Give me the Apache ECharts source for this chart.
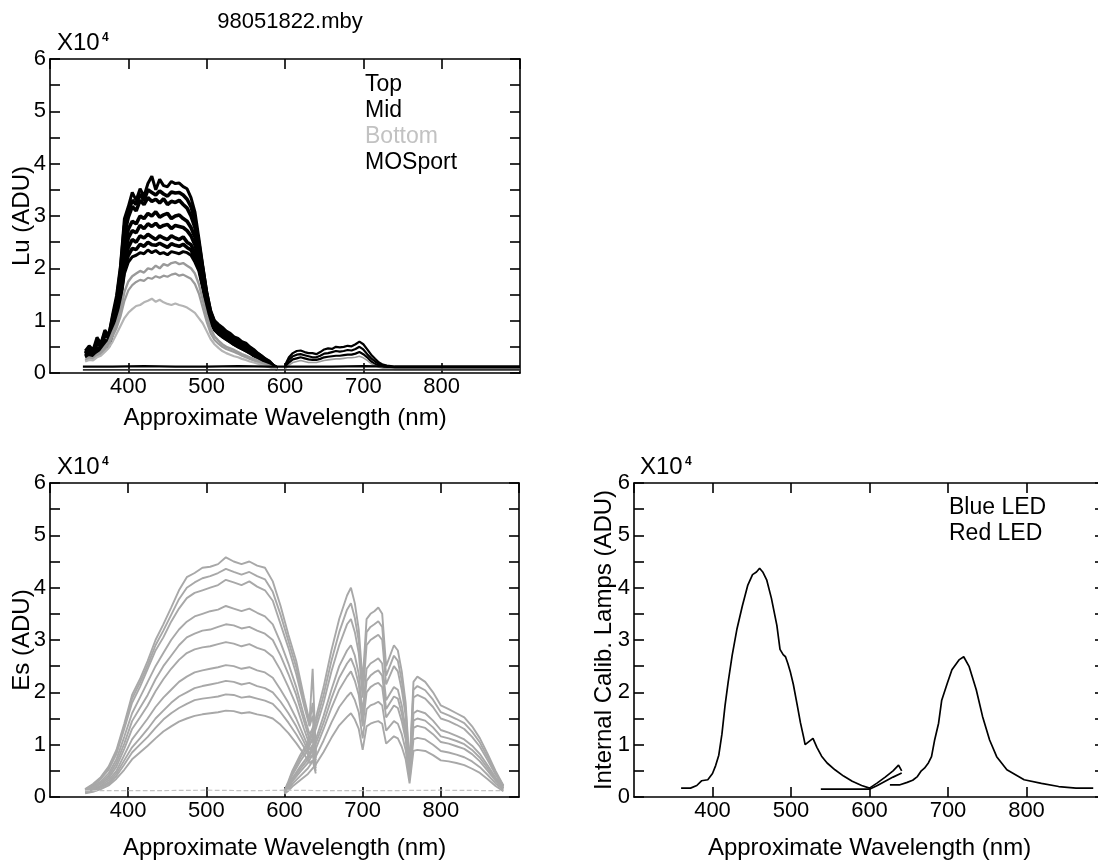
<!DOCTYPE html>
<html><head><meta charset="utf-8">
<script src="https://cdn.jsdelivr.net/npm/echarts@6/dist/echarts.min.js"></script>
<style>html,body{margin:0;padding:0;background:#fff}#c{width:1098px;height:863px}</style>
</head><body><div id="c"></div>
<script>
// ---------- DATA (values in units of 10^4 ADU) ----------
const titleText = '98051822.mby';
const xTicks = [400, 500, 600, 700, 800];

// Lu panel, spectrometer A
const luWlA = [345,350,355,360,365,370,375,380,385,390,395,400,405,410,415,420,425,430,435,440,445,450,455,460,465,470,475,480,485,490,495,500,505,510,515,520,525,530,535,540,545,550,555,560,565,570,575,580,585,590];
const luTop1 = [0.42,0.52,0.44,0.68,0.56,0.82,0.72,1.12,1.48,2.05, 2.95,3.18,3.45,3.30,3.52,3.38,3.62,3.76,3.50,3.70, 3.58,3.56,3.66,3.62,3.63,3.56,3.52,3.35,3.08,2.58, 2.05,1.55,1.20,1.00,0.93,0.87,0.80,0.76,0.69,0.66, 0.60,0.57,0.50,0.45,0.38,0.33,0.27,0.23,0.15,0.10];
const luTop3 = [0.38,0.46,0.42,0.60,0.54,0.76,0.70,1.05,1.38,1.95, 2.80,3.08,3.30,3.22,3.42,3.30,3.50,3.45,3.40,3.48, 3.42,3.38,3.46,3.44,3.45,3.40,3.32,3.18,2.92,2.48, 2.00,1.52,1.16,0.97,0.90,0.83,0.78,0.72,0.66,0.62, 0.58,0.53,0.48,0.42,0.37,0.31,0.26,0.21,0.14,0.10];
const luTop2 = [0.37,0.43,0.40,0.56,0.51,0.72,0.67,1.00,1.30,1.85, 2.65,2.98,3.18,3.10,3.30,3.22,3.35,3.28,3.32,3.25, 3.33,3.22,3.28,3.26,3.30,3.22,3.15,3.00,2.78,2.40, 1.95,1.48,1.12,0.94,0.87,0.80,0.75,0.70,0.64,0.60, 0.55,0.50,0.46,0.40,0.35,0.30,0.25,0.20,0.14,0.09];
const luMid1 = [0.34,0.38,0.36,0.48,0.46,0.62,0.60,0.90,1.18,1.68, 2.40,2.75,2.90,2.85,3.00,2.95,3.05,3.00,3.08,2.98, 3.02,3.05,2.95,3.00,3.02,2.95,2.90,2.78,2.60,2.30, 1.88,1.42,1.08,0.90,0.82,0.76,0.70,0.66,0.60,0.56, 0.52,0.47,0.42,0.37,0.32,0.28,0.23,0.18,0.13,0.09];
const luMid4 = [0.33,0.37,0.35,0.46,0.44,0.59,0.57,0.86,1.12,1.58, 2.25,2.58,2.72,2.68,2.82,2.76,2.85,2.80,2.86,2.78, 2.82,2.84,2.76,2.82,2.80,2.78,2.72,2.62,2.45,2.20, 1.80,1.38,1.05,0.88,0.80,0.74,0.68,0.64,0.58,0.54, 0.50,0.46,0.41,0.36,0.31,0.27,0.22,0.17,0.12,0.08];
const luMid2 = [0.32,0.36,0.34,0.44,0.43,0.56,0.55,0.82,1.08,1.50, 2.10,2.40,2.55,2.50,2.62,2.58,2.65,2.60,2.55,2.62, 2.58,2.55,2.62,2.58,2.55,2.60,2.50,2.45,2.30,2.10, 1.75,1.35,1.02,0.86,0.78,0.72,0.67,0.62,0.57,0.53, 0.49,0.45,0.40,0.35,0.31,0.26,0.22,0.17,0.12,0.08];
const luMid5 = [0.31,0.35,0.33,0.42,0.41,0.54,0.52,0.79,1.04,1.44, 2.00,2.25,2.38,2.36,2.46,2.42,2.50,2.45,2.44,2.48, 2.44,2.40,2.47,2.44,2.42,2.46,2.40,2.35,2.20,2.02, 1.68,1.30,0.99,0.84,0.76,0.70,0.65,0.60,0.55,0.51, 0.47,0.43,0.39,0.34,0.30,0.26,0.21,0.16,0.11,0.08];
const luMid3 = [0.30,0.34,0.32,0.41,0.40,0.52,0.50,0.76,1.00,1.38, 1.90,2.12,2.22,2.25,2.30,2.28,2.35,2.30,2.34,2.28, 2.30,2.26,2.32,2.30,2.28,2.32,2.30,2.25,2.12,1.95, 1.62,1.25,0.96,0.82,0.75,0.69,0.64,0.59,0.54,0.50, 0.46,0.42,0.38,0.33,0.29,0.25,0.21,0.16,0.11,0.08];
const luBot1 = [0.25,0.30,0.28,0.35,0.40,0.50,0.60,0.78,0.95,1.20, 1.55,1.75,1.85,1.90,1.95,1.92,2.00,1.98,2.05,2.00, 2.08,2.05,2.10,2.12,2.08,2.10,2.05,2.00,1.90,1.70, 1.40,1.10,0.85,0.70,0.62,0.55,0.50,0.47,0.44,0.40, 0.36,0.33,0.30,0.27,0.24,0.20,0.17,0.14,0.10,0.08];
const luBot2 = [0.23,0.27,0.26,0.32,0.36,0.45,0.54,0.70,0.86,1.08, 1.38,1.58,1.68,1.74,1.78,1.76,1.82,1.80,1.85,1.82, 1.86,1.84,1.88,1.90,1.86,1.88,1.84,1.80,1.70,1.52, 1.25,0.98,0.76,0.63,0.56,0.50,0.46,0.43,0.40,0.37, 0.33,0.30,0.27,0.24,0.21,0.18,0.15,0.12,0.09,0.07];
const luBot3 = [0.22,0.25,0.24,0.30,0.33,0.40,0.48,0.60,0.75,0.90, 1.05,1.15,1.22,1.28,1.30,1.35,1.38,1.42,1.36,1.40, 1.35,1.32,1.30,1.33,1.30,1.28,1.25,1.20,1.15,1.05, 0.95,0.80,0.65,0.55,0.48,0.42,0.38,0.35,0.32,0.30, 0.27,0.25,0.22,0.20,0.18,0.15,0.13,0.11,0.09,0.08];
// Lu panel, spectrometer B
const luWlB = [600,605,610,615,620,625,630,635,640,645,650,655,660,665,670,675,680,685,690,695,700,705,710,715,720,725,730,735,740,760,780,800,820,840,860,880,900];
const luTopB  = [0.15,0.30,0.38,0.42,0.43,0.40,0.38,0.38,0.36,0.40, 0.45,0.47,0.46,0.50,0.49,0.50,0.52,0.51,0.55,0.60, 0.55,0.45,0.35,0.27,0.20,0.16,0.14,0.13,0.12, 0.12,0.12,0.12,0.12,0.12,0.12,0.12,0.12];
const luMidB  = [0.12,0.25,0.32,0.35,0.36,0.34,0.32,0.30,0.30,0.33, 0.37,0.38,0.40,0.42,0.41,0.42,0.44,0.43,0.46,0.50, 0.45,0.36,0.28,0.22,0.17,0.14,0.12,0.12,0.11, 0.11,0.11,0.11,0.11,0.11,0.11,0.11,0.11];
const luMid2B = [0.10,0.20,0.26,0.28,0.30,0.28,0.26,0.25,0.25,0.27, 0.30,0.31,0.32,0.33,0.33,0.34,0.35,0.35,0.37,0.40, 0.36,0.30,0.22,0.17,0.14,0.12,0.11,0.10,0.10, 0.10,0.10,0.10,0.10,0.10,0.10,0.10,0.10];
const luBotB  = [0.08,0.15,0.20,0.22,0.24,0.22,0.20,0.20,0.20,0.22, 0.24,0.25,0.26,0.27,0.27,0.28,0.29,0.29,0.30,0.32, 0.29,0.24,0.18,0.14,0.11,0.09,0.08,0.08,0.07, 0.07,0.07,0.07,0.07,0.07,0.07,0.07,0.07];
const luMosWl = [342,380,420,460,500,540,580,620,660,700,740,780,820,860,900];
const luMos1  = [0.12,0.12,0.13,0.12,0.12,0.13,0.12,0.12,0.12,0.13,0.12,0.12,0.12,0.12,0.12];
const luMos2  = [0.06,0.06,0.06,0.06,0.06,0.06,0.06,0.06,0.06,0.06,0.06,0.06,0.06,0.06,0.06];

// Es panel, spectrometer A
const esWlA = [345,355,365,375,385,395,405,415,425,435,445,455,465,475,485,495,505,515,525,535,545,555,565,575,585,595,605,615,625,632,636,640];
const esA1  = [0.15,0.25,0.38,0.58,0.90,1.40,1.95,2.25,2.60,3.00,3.30,3.62,3.95,4.20,4.28,4.38,4.40,4.45,4.58,4.50,4.45,4.50,4.42,4.38,4.12,3.65,3.10,2.60,1.90,1.45,2.45,0.85];
const esA10 = [0.14,0.23,0.36,0.55,0.86,1.35,1.88,2.18,2.52,2.90,3.18,3.48,3.78,4.00,4.10,4.18,4.22,4.28,4.36,4.30,4.25,4.30,4.22,4.16,3.92,3.48,2.98,2.48,1.82,1.40,1.80,0.82];
const esA2  = [0.14,0.22,0.35,0.52,0.82,1.30,1.80,2.10,2.45,2.80,3.05,3.35,3.60,3.80,3.90,3.95,4.00,4.05,4.15,4.10,4.05,4.12,4.02,3.95,3.75,3.30,2.85,2.35,1.75,1.35,1.55,0.80];
const esA3  = [0.13,0.20,0.30,0.45,0.72,1.15,1.60,1.90,2.20,2.50,2.75,3.00,3.20,3.35,3.45,3.50,3.55,3.58,3.65,3.60,3.55,3.60,3.52,3.45,3.30,2.95,2.55,2.10,1.55,1.20,1.30,0.75];
const esA4  = [0.12,0.18,0.27,0.40,0.65,1.02,1.45,1.70,1.95,2.25,2.50,2.70,2.90,3.05,3.12,3.18,3.20,3.25,3.30,3.28,3.22,3.25,3.18,3.12,3.00,2.70,2.35,1.95,1.45,1.10,1.20,0.70];
const esA9  = [0.11,0.17,0.25,0.36,0.58,0.92,1.30,1.52,1.75,2.02,2.25,2.45,2.62,2.75,2.82,2.86,2.88,2.92,2.96,2.93,2.88,2.92,2.85,2.80,2.68,2.42,2.10,1.75,1.30,1.00,1.10,0.65];
const esA5  = [0.10,0.15,0.22,0.32,0.50,0.80,1.10,1.30,1.50,1.72,1.90,2.05,2.20,2.30,2.38,2.42,2.45,2.48,2.52,2.50,2.45,2.48,2.42,2.38,2.28,2.05,1.80,1.50,1.15,0.90,1.00,0.60];
const esA6  = [0.09,0.13,0.20,0.28,0.45,0.70,0.95,1.12,1.30,1.50,1.65,1.80,1.92,2.00,2.08,2.12,2.15,2.18,2.22,2.20,2.15,2.18,2.12,2.08,2.00,1.82,1.60,1.35,1.05,0.82,0.90,0.55];
const esA7  = [0.08,0.12,0.18,0.25,0.40,0.62,0.85,1.00,1.15,1.32,1.48,1.60,1.70,1.78,1.85,1.88,1.90,1.92,1.96,1.95,1.90,1.92,1.88,1.84,1.78,1.62,1.42,1.20,0.95,0.75,0.80,0.50];
const esA8  = [0.07,0.10,0.15,0.22,0.35,0.52,0.72,0.85,0.98,1.12,1.25,1.35,1.44,1.50,1.55,1.58,1.60,1.62,1.65,1.64,1.60,1.62,1.58,1.55,1.50,1.38,1.22,1.03,0.82,0.65,0.70,0.45];
// Es panel, spectrometer B
const esWlB = [600,605,610,620,630,640,650,660,670,680,685,690,695,700,705,710,715,720,725,730,740,745,750,755,760,765,770,780,790,800,810,820,830,840,850,860,870,880];
const esB1 = [0.12,0.30,0.50,0.80,1.05,1.50,2.10,2.80,3.40,3.85,4.00,3.70,3.20,2.20,3.40,3.50,3.55,3.62,3.50,2.50,2.90,2.80,2.40,1.80,0.60,2.20,2.30,2.20,2.00,1.75,1.68,1.60,1.52,1.35,1.12,0.82,0.50,0.22];
const esB7 = [0.11,0.28,0.46,0.74,0.98,1.40,1.95,2.60,3.15,3.58,3.70,3.42,2.98,2.05,3.15,3.25,3.30,3.36,3.25,2.32,2.70,2.60,2.22,1.68,0.55,2.05,2.12,2.04,1.86,1.62,1.56,1.49,1.41,1.25,1.04,0.76,0.46,0.21];
const esB2 = [0.10,0.25,0.42,0.68,0.90,1.30,1.80,2.40,2.90,3.30,3.40,3.15,2.75,1.90,2.90,3.00,3.05,3.10,3.00,2.15,2.50,2.40,2.05,1.55,0.50,1.90,1.95,1.88,1.72,1.50,1.45,1.38,1.30,1.15,0.96,0.70,0.43,0.20];
const esB3 = [0.10,0.22,0.36,0.58,0.78,1.10,1.55,2.05,2.50,2.80,2.90,2.70,2.35,1.60,2.45,2.55,2.60,2.65,2.55,1.85,2.10,2.05,1.75,1.30,0.45,1.60,1.65,1.60,1.46,1.28,1.23,1.17,1.10,0.98,0.82,0.60,0.37,0.18];
const esB8 = [0.09,0.20,0.33,0.53,0.72,1.02,1.42,1.88,2.28,2.55,2.65,2.46,2.15,1.48,2.22,2.32,2.38,2.42,2.32,1.68,1.92,1.88,1.60,1.20,0.42,1.46,1.50,1.46,1.33,1.16,1.12,1.07,1.01,0.90,0.75,0.55,0.34,0.17];
const esB4 = [0.08,0.18,0.30,0.48,0.65,0.92,1.30,1.70,2.05,2.30,2.40,2.22,1.95,1.35,2.00,2.10,2.15,2.18,2.10,1.52,1.75,1.70,1.45,1.10,0.38,1.32,1.36,1.32,1.20,1.05,1.02,0.97,0.92,0.82,0.68,0.50,0.31,0.16];
const esB5 = [0.07,0.15,0.25,0.40,0.55,0.77,1.08,1.42,1.72,1.92,2.00,1.85,1.62,1.12,1.68,1.75,1.78,1.82,1.75,1.27,1.45,1.40,1.20,0.90,0.32,1.10,1.13,1.10,1.00,0.88,0.85,0.81,0.76,0.68,0.57,0.42,0.26,0.14];
const esB6 = [0.06,0.12,0.20,0.32,0.44,0.62,0.86,1.13,1.37,1.53,1.60,1.48,1.30,0.90,1.35,1.40,1.43,1.45,1.40,1.02,1.16,1.12,0.96,0.72,0.26,0.88,0.90,0.88,0.80,0.70,0.68,0.65,0.61,0.54,0.46,0.34,0.21,0.11];
const esBaseWl = [345,420,500,560,600,660,720,800,880];
const esBase   = [0.12,0.12,0.13,0.12,0.13,0.12,0.12,0.13,0.12];

// Internal calibration lamps panel
const ledBlueWl = [360,372,380,386,394,400,404,408,412,416,420,425,431,438,445,451,456,460,464,469,475,482,486,490,493,496,499,503,508,512,516,518,522,528,533,539,546,556,567,578,590,600,610,620,630,637,641];
const ledBlue   = [0.17,0.17,0.22,0.31,0.33,0.45,0.60,0.80,1.20,1.75, 2.20,2.70,3.20,3.65,4.05,4.25,4.30,4.37,4.30,4.15, 3.80,3.28,2.82,2.72,2.68,2.55,2.40,2.15,1.75,1.42, 1.15,1.00,1.05,1.12,0.95,0.78,0.65,0.52,0.40,0.30, 0.22,0.17,0.27,0.38,0.50,0.61,0.50];
const ledRedAWl = [538,560,580,600,610,620,630,641];
const ledRedA   = [0.15,0.15,0.15,0.15,0.22,0.30,0.38,0.46];
const ledRedBWl = [626,638,648,655,661,666,670,675,679,683,688,692,699,705,714,720,727,736,744,753,762,775,797,819,841,863,885];
const ledRedB   = [0.23,0.23,0.28,0.32,0.39,0.50,0.55,0.65,0.77,1.09,1.41,1.85,2.17,2.43,2.62,2.68,2.49,2.05,1.54,1.09,0.77,0.52,0.33,0.26,0.20,0.17,0.17];

// ---------- CHART ----------
const FONT = "'Liberation Sans', Arial, Helvetica, sans-serif";
const BLACK = '#000';
const pairs = (wl, v) => wl.map((w, i) => [w, v[i]]);

const grids = [
  {left: 50,  top: 59,  width: 470, height: 314},
  {left: 50,  top: 483, width: 469, height: 314},
  {left: 634, top: 483, width: 471, height: 314}
];
const xNameGap = [33, 39, 39];
const yNames = ['Lu (ADU)', 'Es (ADU)', 'Internal Calib. Lamps (ADU)'];
const yNameGap = [16, 16, 18];

const xAxes = [], yAxes = [];
grids.forEach((g, i) => {
  const line = {show: true, onZero: false, lineStyle: {color: BLACK, width: 1.6}};
  const tick = {show: true, inside: true, length: 10, lineStyle: {color: BLACK, width: 1.6}};
  xAxes.push({
    type: 'value', gridIndex: i, min: 300, max: 900, interval: 100, position: 'bottom',
    axisLine: line, axisTick: tick, splitLine: {show: false},
    axisLabel: {color: BLACK, fontSize: 22, fontFamily: FONT, margin: 3, showMinLabel: false, showMaxLabel: false,
      formatter: v => xTicks.includes(v) ? String(v) : ''},
    name: 'Approximate Wavelength (nm)', nameLocation: 'middle', nameGap: xNameGap[i],
    nameTextStyle: {color: BLACK, fontSize: 24, fontFamily: FONT}
  });
  xAxes.push({
    type: 'value', gridIndex: i, min: 300, max: 900, interval: 100, position: 'top',
    axisLine: line, axisTick: tick, splitLine: {show: false}, axisLabel: {show: false}
  });
  yAxes.push({
    type: 'value', gridIndex: i, min: 0, max: 6, interval: 0.5, position: 'left',
    axisLine: line, axisTick: tick, splitLine: {show: false},
    axisLabel: {color: BLACK, fontSize: 22, fontFamily: FONT, margin: 4,
      formatter: v => Math.abs(v - Math.round(v)) < 1e-6 ? String(Math.round(v)) : ''},
    name: yNames[i], nameLocation: 'middle', nameRotate: 90, nameGap: yNameGap[i], nameMoveOverlap: false,
    nameTextStyle: {color: BLACK, fontSize: 24, fontFamily: FONT}
  });
  yAxes.push({
    type: 'value', gridIndex: i, min: 0, max: 6, interval: 0.5, position: 'right',
    axisLine: line, axisTick: tick, splitLine: {show: false}, axisLabel: {show: false}
  });
});

function line(name, gi, wl, vals, color, width, type) {
  return {
    type: 'line', name, xAxisIndex: gi * 2, yAxisIndex: gi * 2, data: pairs(wl, vals),
    symbol: 'none', silent: true, animation: false, clip: true,
    lineStyle: {color, width, type: type || 'solid'}, itemStyle: {color}
  };
}
const GRAY = '#9a9a9a', LGRAY = '#b4b4b4', ESG = '#a8a8a8';
const LW = 3.6;

const series = [
  // Lu
  line('Top', 0, luWlA, luTop1, BLACK, 3),
  line('Top', 0, luWlA, luTop3, BLACK, LW),
  line('Top', 0, luWlA, luTop2, BLACK, LW),
  line('Top', 0, luWlB, luTopB, BLACK, 2.2),
  line('Mid', 0, luWlA, luMid1, BLACK, LW),
  line('Mid', 0, luWlA, luMid4, BLACK, LW),
  line('Mid', 0, luWlA, luMid2, BLACK, LW),
  line('Mid', 0, luWlA, luMid5, BLACK, LW),
  line('Mid', 0, luWlA, luMid3, BLACK, 3),
  line('Mid', 0, luWlB, luMidB, BLACK, 2.2),
  line('Mid', 0, luWlB, luMid2B, BLACK, 2.2),
  line('Bottom', 0, luWlA, luBot1, GRAY, 2.4),
  line('Bottom', 0, luWlA, luBot2, GRAY, 2.2),
  line('Bottom', 0, luWlA, luBot3, LGRAY, 2.2),
  line('Bottom', 0, luWlB, luBotB, GRAY, 1.6),
  line('MOSport', 0, luMosWl, luMos1, BLACK, 2.2),
  line('MOSport', 0, luMosWl, luMos2, '#333', 1.6)
];
[esA1, esA10, esA2, esA3, esA4, esA9, esA5, esA6, esA7, esA8].forEach(v => series.push(line('Es', 1, esWlA, v, ESG, 1.9)));
[esB1, esB7, esB2, esB3, esB8, esB4, esB5, esB6].forEach(v => series.push(line('Es', 1, esWlB, v, ESG, 1.9)));
series.push(line('Es', 1, esBaseWl, esBase, '#c4c4c4', 1.2, 'dashed'));
series.push(
  line('Blue LED', 2, ledBlueWl, ledBlue, BLACK, 1.7),
  line('Red LED', 2, ledRedAWl, ledRedA, BLACK, 1.7),
  line('Red LED', 2, ledRedBWl, ledRedB, BLACK, 1.7)
);

const legendBase = {
  orient: 'vertical', itemWidth: 0, itemHeight: 0, itemGap: 0, padding: 0, icon: 'rect',
  selectedMode: false, textStyle: {color: BLACK, fontSize: 23, fontFamily: FONT, lineHeight: 26}
};

const supText = (x, y) => [
  {type: 'text', left: x, top: y, style: {text: 'X10', fill: BLACK, font: `24px ${FONT}`}},
  {type: 'text', left: x + 45, top: y + 1, style: {text: '4', fill: BLACK, font: `bold 12px ${FONT}`}}
];

const chart = echarts.init(document.getElementById('c'), null, {renderer: 'canvas'});
chart.setOption({
  backgroundColor: '#fff',
  animation: false,
  title: {text: titleText, left: 285, top: 6, textAlign: 'center',
    textStyle: {color: BLACK, fontSize: 22, fontWeight: 'normal', fontFamily: FONT}},
  grid: grids.map(g => Object.assign({outerBoundsMode: 'none', containLabel: false}, g)),
  xAxis: xAxes,
  yAxis: yAxes,
  legend: [
    Object.assign({}, legendBase, {left: 360, top: 72,
      data: [{name: 'Top'}, {name: 'Mid'}, {name: 'Bottom', textStyle: {color: '#c2c2c2'}}, {name: 'MOSport'}]}),
    Object.assign({}, legendBase, {left: 944, top: 495, data: [{name: 'Blue LED'}, {name: 'Red LED'}]})
  ],
  graphic: [].concat(supText(57, 31), supText(57, 455), supText(640, 455)),
  series
});
</script></body></html>
